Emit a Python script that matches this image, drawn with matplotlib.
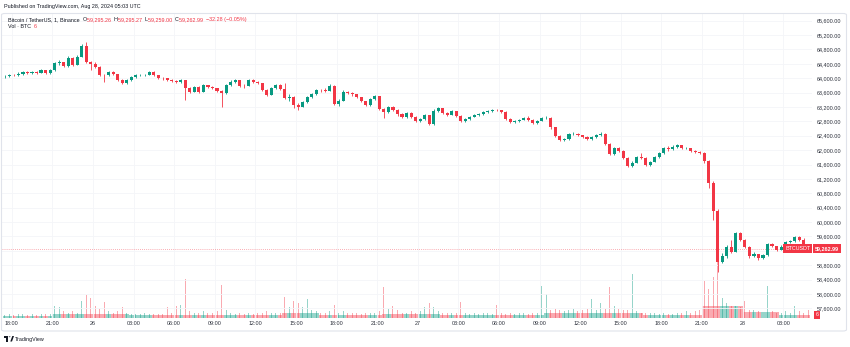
import numpy as np
import pandas as pd
import matplotlib
matplotlib.use("Agg")
import matplotlib.pyplot as plt
import matplotlib.dates as mdates
import matplotlib.transforms as mtransforms
from matplotlib.patches import FancyBboxPatch, Rectangle, Polygon, Circle
from matplotlib.ticker import FuncFormatter

plt.rcParams["font.family"] = ["Liberation Sans", "DejaVu Sans"]

# ---------------------------------------------------------------- data
published = "Published on TradingView.com, Aug 28, 2024 05:03 UTC"
symbol_title = "Bitcoin / TetherUS, 1, Binance"
volume_title = "Vol \u00b7 BTC"
pair_name = "BTCUSDT"

start = "2024-08-25 17:20"       # first bar start (UTC)
bar_minutes = 20
first_open = 64050
last_open = 59295.26

close = [
    64060, 64090, 64080, 64120, 64180, 64150, 64160, 64150, 64220, 64150,
    64220, 64420, 64450, 64330, 64550, 64380, 64600, 64900, 64450, 64400,
    64320, 64100, 64080, 64180, 64120, 63960, 63870, 63950, 64040, 64080,
    64090, 64090, 64170, 64080, 64020, 64000, 63960, 63930, 63900, 63950,
    63730, 63630, 63760, 63630, 63800, 63760, 63720, 63650, 63580, 63800,
    63900, 63940, 63790, 63780, 63950, 63900, 63870, 63680, 63540, 63720,
    63810, 63700, 63450, 63480, 63250, 63200, 63330, 63480, 63560, 63670,
    63660, 63650, 63790, 63280, 63380, 63620, 63580, 63550, 63470, 63360,
    63260, 63430, 63500, 63140, 63050, 63210, 63120, 63000, 62920, 63020,
    62930, 62800, 62870, 62970, 62720, 63100, 63160, 63030, 62990, 63080,
    62960, 62800, 62860, 62930, 62970, 63000, 63050, 63090, 63120, 63110,
    63060, 62860, 62780, 62800, 62840, 62900, 62850, 62760, 62820, 62880,
    62900, 62630, 62400, 62290, 62300, 62450, 62460, 62410, 62360, 62300,
    62370, 62420, 62460, 62180, 61900, 62050, 61990, 61780, 61560, 61650,
    61820, 61790, 61590, 61680, 61800, 61910, 62060, 62030, 62090, 62140,
    62050, 62060, 61970, 61960, 61930, 61700, 61100, 60300, 58900, 59050,
    59300, 59180, 59690, 59500, 59320, 59050, 59100, 58990, 59080, 59380,
    59330, 59230, 59320, 59450, 59460, 59580, 59490, 59295.27, 59262.99,
]
high = [
    64100, 64120, 64120, 64160, 64210, 64200, 64190, 64190, 64250, 64230,
    64250, 64460, 64520, 64460, 64620, 64580, 64640, 64940, 65010, 64480,
    64440, 64330, 64120, 64210, 64200, 64130, 63980, 63980, 64070, 64110,
    64120, 64130, 64200, 64190, 64090, 64040, 64020, 63980, 63950, 63980,
    63960, 63760, 63790, 63770, 63830, 63820, 63780, 63730, 63660, 63830,
    63940, 63980, 63950, 63830, 63980, 63970, 63920, 63880, 63700, 63750,
    63850, 63840, 63880, 63560, 63500, 63300, 63360, 63510, 63600, 63700,
    63710, 63720, 63830, 63800, 63420, 63660, 63650, 63610, 63570, 63490,
    63380, 63460, 63540, 63510, 63160, 63240, 63230, 63140, 63020, 63050,
    63060, 62950, 62900, 63000, 62990, 63140, 63190, 63170, 63060, 63120,
    63090, 62970, 62890, 62960, 63000, 63040, 63080, 63120, 63150, 63150,
    63130, 63080, 62880, 62840, 62870, 62930, 62940, 62870, 62850, 62910,
    62940, 62910, 62650, 62420, 62340, 62480, 62500, 62480, 62430, 62380,
    62400, 62450, 62500, 62470, 62200, 62090, 62080, 62000, 61800, 61690,
    61850, 61930, 61800, 61710, 61830, 61940, 62100, 62110, 62130, 62170,
    62150, 62100, 62070, 62000, 61990, 61950, 61720, 61150, 60350, 59150,
    59350, 59500, 59730, 59710, 59520, 59340, 59180, 59110, 59120, 59420,
    59430, 59340, 59350, 59480, 59500, 59610, 59620, 59560, 59295.27,
]
low = [
    64010, 64030, 64050, 64060, 64100, 64120, 64120, 64120, 64140, 64120,
    64130, 64200, 64360, 64300, 64300, 64340, 64360, 64600, 64420, 64220,
    64280, 64060, 63900, 64060, 64090, 63930, 63840, 63850, 63930, 64020,
    64050, 64060, 64080, 64050, 63990, 63960, 63930, 63900, 63870, 63880,
    63400, 63600, 63610, 63600, 63620, 63730, 63690, 63620, 63210, 63560,
    63780, 63870, 63760, 63740, 63770, 63870, 63840, 63640, 63500, 63520,
    63700, 63660, 63420, 63380, 63170, 63110, 63190, 63300, 63450, 63520,
    63630, 63610, 63640, 63250, 63240, 63360, 63560, 63510, 63440, 63330,
    63230, 63240, 63400, 63110, 62880, 63030, 63080, 62960, 62890, 62900,
    62900, 62770, 62780, 62850, 62690, 62700, 63060, 63000, 62960, 62980,
    62930, 62770, 62780, 62840, 62910, 62950, 62990, 63030, 63070, 63080,
    63030, 62830, 62750, 62760, 62790, 62830, 62820, 62730, 62740, 62800,
    62860, 62600, 62370, 62260, 62250, 62290, 62420, 62380, 62330, 62270,
    62270, 62350, 62400, 62150, 61860, 61870, 61950, 61750, 61530, 61540,
    61630, 61760, 61560, 61570, 61670, 61790, 61900, 61990, 62000, 62070,
    62020, 62020, 61940, 61930, 61900, 61650, 60950, 60050, 58600, 58850,
    59000, 59130, 59170, 59480, 59290, 59000, 59020, 58940, 58970, 59060,
    59300, 59200, 59210, 59310, 59420, 59440, 59460, 59280, 59259.00,
]
# largest one-minute volume inside each bar (BTC)
vol_peak = [
    2, 3, 2, 3, 3, 2, 3, 2, 3, 3,
    3, 9, 8, 5, 4, 5, 4, 13, 17, 15,
    9, 7, 12, 5, 4, 5, 8, 4, 3, 3,
    3, 4, 3, 3, 3, 3, 8, 4, 9, 10,
    29, 5, 4, 4, 5, 4, 4, 5, 25, 6,
    4, 3, 4, 3, 4, 3, 4, 4, 5, 4,
    4, 4, 16, 8, 13, 11, 8, 14, 6, 5,
    4, 4, 5, 10, 4, 5, 4, 4, 4, 3,
    4, 4, 4, 5, 23, 7, 9, 6, 4, 4,
    5, 4, 5, 8, 11, 8, 5, 4, 4, 4,
    4, 12, 4, 3, 4, 3, 4, 4, 3, 10,
    4, 3, 4, 3, 4, 4, 3, 4, 4, 24,
    18, 6, 7, 6, 5, 6, 7, 5, 6, 7,
    14, 6, 11, 7, 23, 9, 7, 6, 6, 33,
    5, 4, 4, 4, 4, 3, 4, 3, 3, 4,
    4, 5, 4, 5, 6, 28, 22, 31, 70, 15,
    11, 9, 9, 8, 13, 6, 6, 5, 11, 24,
    5, 4, 4, 5, 4, 9, 5, 4, 6,
]
# typical one-minute volume inside each bar (BTC)
vol_base = (
    [1.5] * 11 + [3.0] * 17 + [2.2] * 12 + [2.2] * 22 + [3.8] * 8
    + [2.2] * 14 + [3.0] * 13 + [2.2] * 23 + [3.8] * 22 + [2.2] * 13
    + [9.0] * 9 + [4.5] * 8 + [2.2] * 7
)

# ---------------------------------------------------------------- style
UP = "#089981"
DOWN = "#f23645"
TEXT = "#131722"
SCALE_TEXT = "#2a2e39"
GRID = "#f4f5f8"
FS = 3.9

W, H = 850, 347
fig = plt.figure(figsize=(W / 100, H / 100), dpi=100)
fig.patch.set_facecolor("white")


def rect(x0, y0, x1, y1):
    return [x0 / W, 1 - y1 / H, (x1 - x0) / W, (y1 - y0) / H]


def fx(x):
    return x / W


def fy(y):
    return 1 - y / H


pane = rect(2, 14, 812, 318)
ax_vol = fig.add_axes(pane)
ax = fig.add_axes(pane, sharex=ax_vol)
ax.patch.set_visible(False)

close = np.asarray(close, float)
high = np.asarray(high, float)
low = np.asarray(low, float)
opens = np.r_[first_open, close[:-1]]
opens[-1] = last_open
last = close[-1]

times = pd.date_range(start, periods=len(close), freq=f"{bar_minutes}min")
times = times + pd.Timedelta(minutes=bar_minutes / 2)
t = mdates.date2num(times.to_pydatetime())
bar_w = bar_minutes / (24 * 60)

rising = close >= opens
colors = np.where(rising, UP, DOWN)

# volume overlay
vol_colors = [(0.031, 0.6, 0.506, 0.42) if r else (0.949, 0.212, 0.271, 0.42) for r in rising]
ax_vol.bar(t, vol_base, width=bar_w, color=vol_colors, linewidth=0)
ax_vol.bar(t, vol_peak, width=bar_w * 0.22, color=vol_colors, linewidth=0)
ax_vol.set_ylim(0, 228)
ax_vol.set_yticks([])
ax_vol.tick_params(axis="x", which="both", length=0, labelbottom=False)
for s in ax_vol.spines.values():
    s.set_visible(False)

# candles
ax.vlines(t, low, high, colors=colors, linewidth=0.6, zorder=3)
body = np.maximum(np.abs(close - opens), 8)
ax.bar(t, body, bottom=np.minimum(opens, close), width=bar_w * 0.68,
       color=colors, linewidth=0, zorder=4)

# axes ranges
t18 = pd.Timestamp("2024-08-25 18:00")
ax.set_xlim(mdates.date2num(t18 - pd.Timedelta(hours=0.7166)),
            mdates.date2num(t18 + pd.Timedelta(hours=59.12)))
ax.set_ylim(57332, 65786)

ax.set_yticks(np.arange(57600, 65601, 400))
# labels hidden behind the last-price marker are skipped
ax.yaxis.set_major_formatter(
    FuncFormatter(lambda v, p: "" if abs(v - last) < 200 else f"{v:,.2f}"))
ax.yaxis.tick_right()
ax.tick_params(axis="y", length=0, pad=3.6, labelsize=FS, labelcolor=SCALE_TEXT)


def time_label(x, pos):
    d = mdates.num2date(x)
    return str(d.day) if d.hour == 0 and d.minute == 0 else d.strftime("%H:%M")


ax.xaxis.set_major_locator(mdates.HourLocator(byhour=range(0, 24, 3)))
ax.xaxis.set_major_formatter(FuncFormatter(time_label))
ax.tick_params(axis="x", length=0, pad=2.4, labelsize=FS, labelcolor=SCALE_TEXT)

ax.grid(True, color=GRID, linewidth=0.6, zorder=0)
ax.set_axisbelow(True)
for s in ax.spines.values():
    s.set_visible(False)

# last price line and labels
ax.axhline(last, color=DOWN, linewidth=0.6, linestyle=(0, (1, 1.5)), alpha=0.55, zorder=2)
blend = mtransforms.blended_transform_factory(ax.transAxes, ax.transData)
ax.text(1.0 + 2.5 / 810, last, f"{last:,.2f}", transform=blend, ha="left", va="center",
        fontsize=FS, color="white", fontweight="bold", clip_on=False, zorder=10,
        bbox=dict(boxstyle="square,pad=0.35", fc=DOWN, ec="none"))
ax.text(1.0 - 1.5 / 810, last, pair_name, transform=blend, ha="right", va="center",
        fontsize=FS, color="white", clip_on=False, zorder=10,
        bbox=dict(boxstyle="square,pad=0.35", fc=DOWN, ec="none"))
fig.text(fx(817), fy(315), f"{vol_peak[-1]:g}", ha="center", va="center",
         fontsize=FS, color="white",
         bbox=dict(boxstyle="square,pad=0.3", fc=DOWN, ec="none"))

# chart frame
frame = FancyBboxPatch((fx(1.5), fy(331)), fx(845), (331 - 13.5) / H,
                       boxstyle="round,pad=0,rounding_size=0.004",
                       transform=fig.transFigure, fc="none", ec="#e0e3eb", lw=0.8)
fig.add_artist(frame)

# header texts
fig.text(fx(4), fy(6.5), published, fontsize=FS, color=TEXT, va="center")

change = close[-1] - close[-2]
pct = change / close[-2] * 100
pieces = [
    (symbol_title + "  ", TEXT),
    ("O", TEXT), (f"{opens[-1]:,.2f}  ", DOWN),
    ("H", TEXT), (f"{high[-1]:,.2f}  ", DOWN),
    ("L", TEXT), (f"{low[-1]:,.2f}  ", DOWN),
    ("C", TEXT), (f"{close[-1]:,.2f}  ", DOWN),
    (f"{change:+,.2f} ({pct:+.2f}%)".replace("-", "\u2212"), DOWN),
]
vol_pieces = [(volume_title + "  ", TEXT), (f"{vol_peak[-1]:g}", DOWN)]

fig.canvas.draw()
renderer = fig.canvas.get_renderer()


def write_row(items, x_px, y_px):
    x = x_px
    for s, c in items:
        txt = fig.text(fx(x), fy(y_px), s, fontsize=FS, color=c, va="center")
        bb = txt.get_window_extent(renderer)
        x += bb.width


write_row(pieces, 8, 19.5)
write_row(vol_pieces, 8, 27)

# footer logo
dark = TEXT
fig.add_artist(Rectangle((fx(4), fy(337.5)), 4.2 / W, 1.6 / H, transform=fig.transFigure, fc=dark, ec="none"))
fig.add_artist(Rectangle((fx(6.4), fy(341.5)), 1.8 / W, 5.6 / H, transform=fig.transFigure, fc=dark, ec="none"))
fig.add_artist(Circle((fx(9.6), fy(336.8)), 0.9 / W, transform=fig.transFigure, fc=dark, ec="none"))
fig.add_artist(Polygon([(fx(10.3), fy(341.5)), (fx(12.3), fy(336)), (fx(14.0), fy(336)), (fx(12.0), fy(341.5))],
                       closed=True, transform=fig.transFigure, fc=dark, ec="none"))
fig.text(fx(15), fy(339), "TradingView", fontsize=FS, color=dark, va="center")

fig.savefig("out.png", dpi=100, facecolor="white")
